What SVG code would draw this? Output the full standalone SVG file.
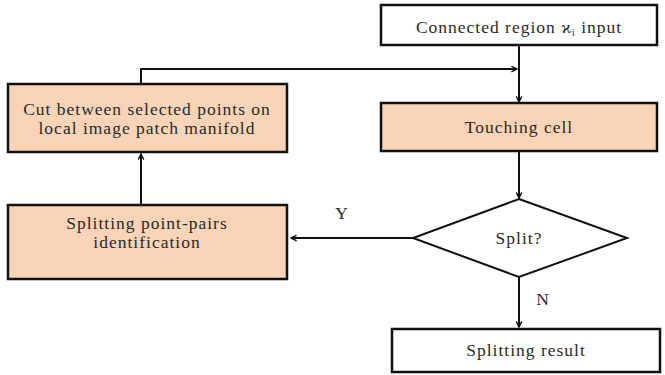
<svg xmlns="http://www.w3.org/2000/svg" width="665" height="375" viewBox="0 0 665 375">
<style>
.box{stroke:#111;stroke-width:2.5;}
.w{fill:#fff;}
.p{fill:#F9D4B6;}
.t{font-family:'Liberation Serif','Times New Roman','DejaVu Serif',serif;font-size:17.5px;letter-spacing:1px;fill:#2a2a2a;text-anchor:middle;}
.c{fill:none;stroke:#111;stroke-width:2;}
</style>
<defs>
<marker id="ah" viewBox="0 0 10 10" refX="9" refY="5" markerWidth="7" markerHeight="7" orient="auto" markerUnits="userSpaceOnUse">
<path d="M1,1 L9,5 L1,9" fill="none" stroke="#111" stroke-width="2"/>
</marker>
</defs>
<rect width="665" height="375" fill="#fff"/>
<g id="connectors">
<line class="c" x1="519" y1="46" x2="519" y2="102" marker-end="url(#ah)"/>
<polyline class="c" points="141,84 141,69 517,69" marker-end="url(#ah)"/>
<line class="c" x1="519" y1="152" x2="519" y2="198" marker-end="url(#ah)"/>
<line class="c" x1="413" y1="238" x2="291" y2="238" marker-end="url(#ah)"/>
<line class="c" x1="519" y1="277" x2="519" y2="327" marker-end="url(#ah)"/>
<line class="c" x1="141" y1="205" x2="141" y2="154" marker-end="url(#ah)"/>
<text class="t" x="342" y="219">Y</text>
<text class="t" x="543" y="305">N</text>
</g>
<g id="input">
<rect class="box w" x="381" y="5" width="276" height="40"/>
<text class="t" x="519" y="33">Connected region ϰ<tspan font-size="10" dy="3">i</tspan><tspan dy="-3"> input</tspan></text>
</g>
<g id="cut">
<rect class="box p" x="8" y="84" width="279" height="68"/>
<text class="t" x="147" y="115">Cut between selected points on</text>
<text class="t" x="147" y="134">local image patch manifold</text>
</g>
<g id="touching">
<rect class="box p" x="381" y="103" width="276" height="48"/>
<text class="t" x="519" y="133">Touching cell</text>
</g>
<g id="split">
<polygon points="519,199 627,238 519,277 413,238" fill="#fff" stroke="#111" stroke-width="2"/>
<text class="t" x="519" y="244">Split?</text>
</g>
<g id="pairs">
<rect class="box p" x="8" y="205" width="279" height="74"/>
<text class="t" x="147" y="229">Splitting point-pairs</text>
<text class="t" x="147" y="248">identification</text>
</g>
<g id="result">
<rect class="box w" x="392" y="329" width="268" height="43"/>
<text class="t" x="526" y="356">Splitting result</text>
</g>
</svg>
